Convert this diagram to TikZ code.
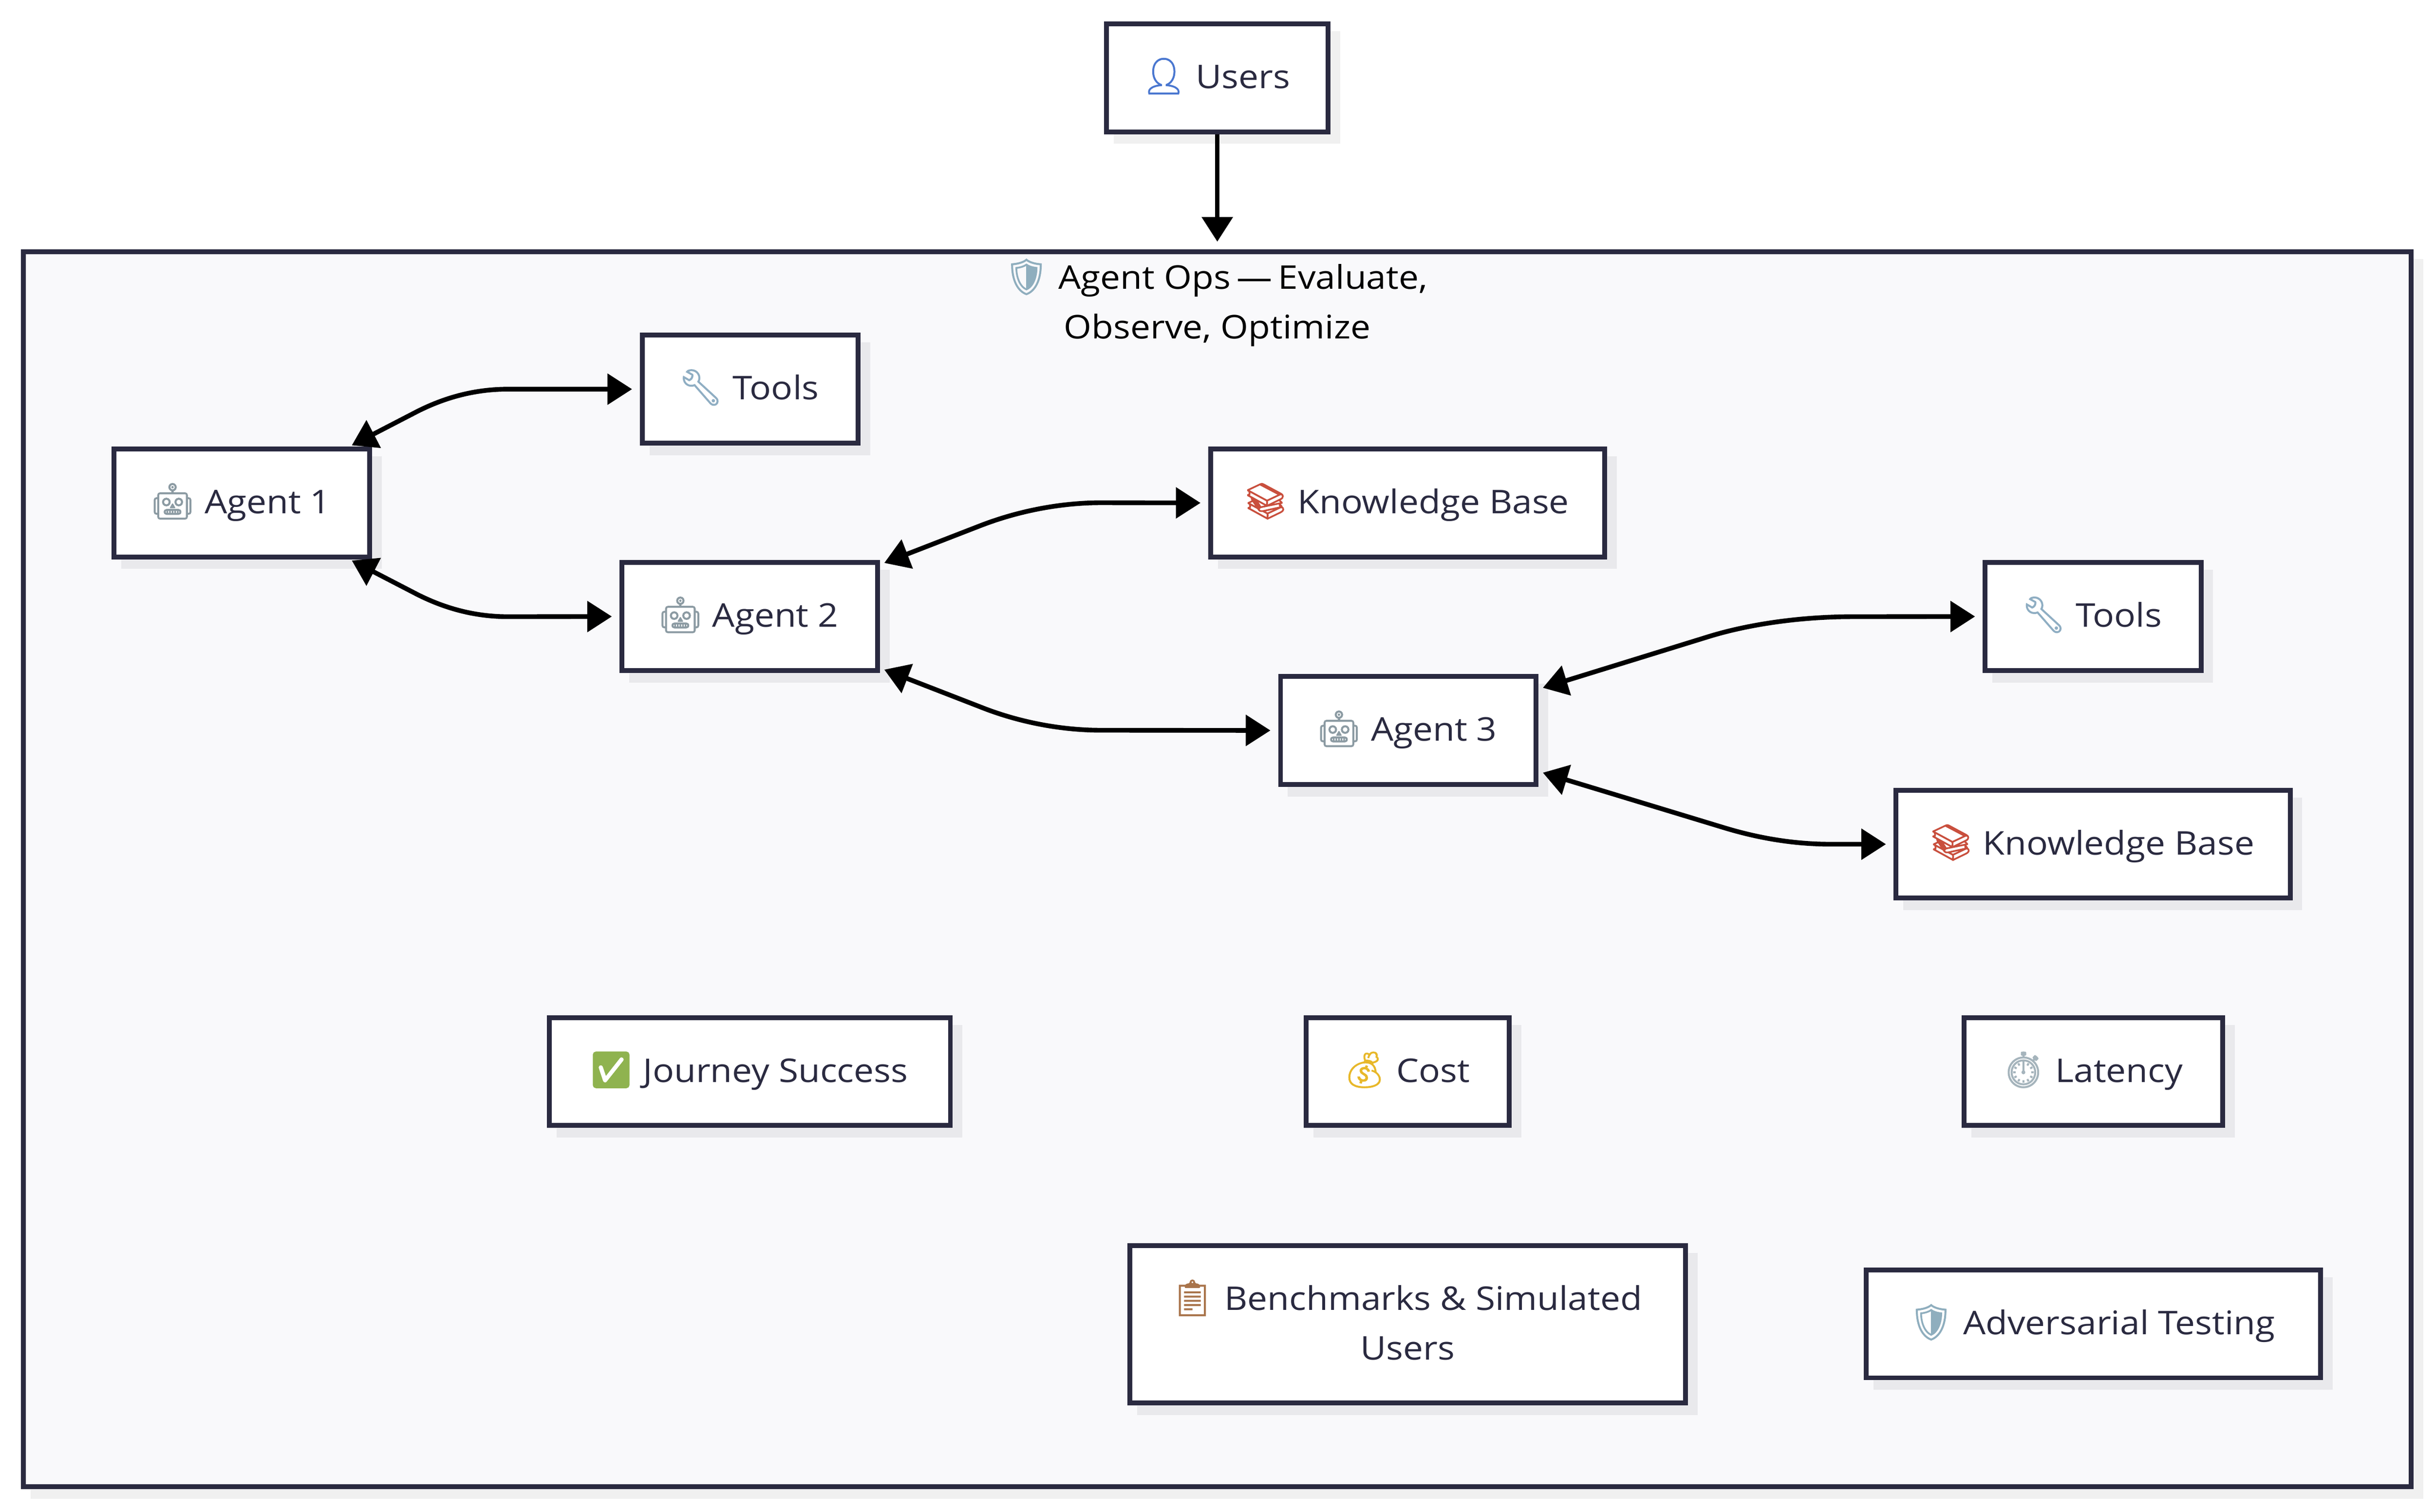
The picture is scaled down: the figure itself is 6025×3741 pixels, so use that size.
\documentclass[tikz,border=0pt]{standalone}
\usepackage{fontspec}
\usepackage{tikz}
\usetikzlibrary{arrows.meta,shadows}
\setmainfont{Open Sans}[FakeStretch=1.09]
\newfontfamily\emojifont{Noto Emoji}[FakeBold=1.6]
\definecolor{inkc}{HTML}{2A2A40}
\definecolor{panelc}{HTML}{F9F9FB}
\definecolor{shadeon}{HTML}{E9E9EC}
\definecolor{shadeoff}{HTML}{F0F0F0}
\definecolor{userc}{HTML}{4A77D0}
\definecolor{robotc}{HTML}{8C9BA3}
\definecolor{bookc}{HTML}{C94F3D}
\definecolor{toolc}{HTML}{8FAEC3}
\definecolor{shieldc}{HTML}{8FAEBE}
\definecolor{checkc}{HTML}{8FB34F}
\definecolor{moneyc}{HTML}{E8B82A}
\definecolor{watchc}{HTML}{A5B4BC}
\definecolor{clipc}{HTML}{A9744B}
\newcommand{\icon}[2]{\makebox[31.75pt][l]{\hspace{-2pt}\textcolor{#1}{\fontsize{22pt}{30.75pt}\emojifont #2}}}
\tikzset{
  box/.style={draw=inkc,fill=white,line width=3pt,text=inkc,minimum height=66.75pt,
    align=center,inner sep=0pt,font=\fontsize{20.2pt}{30.75pt}\selectfont,
    text height=16pt,text depth=3pt,
    general shadow={draw=shadeon,fill=shadeon,line width=3pt,shadow xshift=6pt,shadow yshift=-6pt}},
  topbox/.style={box,general shadow={draw=shadeoff,fill=shadeoff,line width=3pt,shadow xshift=6pt,shadow yshift=-6pt}},
  panel/.style={draw=inkc,fill=panelc,line width=3pt,inner sep=0pt,
    general shadow={draw=shadeoff,fill=shadeoff,line width=3pt,shadow xshift=6pt,shadow yshift=-6pt}},
  link/.style={draw=black,line width=2.9pt,shorten >=4.75pt,-{Triangle[length=15.25pt,width=18.75pt]}},
  bothlink/.style={link,{Triangle[length=15.25pt,width=18.75pt]}-{Triangle[length=15.25pt,width=18.75pt]}}
}
\begin{document}
\begin{tikzpicture}[x=0.25pt,y=0.25pt,yscale=-1,xscale=1]
    \useasboundingbox (0,0) rectangle (6025,3741);

    %Shape: Panel
    \draw (3012,2151) node (panelbox) [panel,minimum width=1477pt,minimum height=764pt] {};
    %Shape: Users
    \draw (3012,192.5) node (users) [topbox,minimum width=137.25pt] {\icon{userc}{👤}Users};

    % Text Node
    \draw (3012,749) node (paneltitle) [align=center,inner sep=0pt,text=black,font=\fontsize{20.2pt}{30.75pt}\selectfont] {\icon{shieldc}{🛡}Agent Ops\kern-2pt{} — \kern-2pt{}Evaluate,\\Observe, Optimize};

    %Shape: Agents
    \draw (598.5,1244.5) node (agentone) [box,minimum width=158pt] {\icon{robotc}{🤖}Agent 1};
    \draw (1855,1525.5) node (agenttwo) [box,minimum width=158pt] {\icon{robotc}{🤖}Agent 2};
    \draw (3484.5,1807.5) node (agentthree) [box,minimum width=158pt] {\icon{robotc}{🤖}Agent 3};

    %Shape: Tools and bases
    \draw (1856,963) node (toolsone) [box,minimum width=133.5pt] {\icon{toolc}{🔧}Tools};
    \draw (3483,1244.5) node (kbone) [box,minimum width=243.75pt] {\icon{bookc}{📚}Knowledge Base};
    \draw (5179,1525.5) node (toolstwo) [box,minimum width=133.5pt] {\icon{toolc}{🔧}Tools};
    \draw (5179,2089) node (kbtwo) [box,minimum width=243.75pt] {\icon{bookc}{📚}Knowledge Base};

    %Shape: Metrics
    \draw (1855.5,2651.5) node (journey) [box,minimum width=248pt] {\icon{checkc}{✅}Journey Success};
    \draw (3483,2651.5) node (cost) [box,minimum width=125.5pt] {\icon{moneyc}{💰}Cost};
    \draw (5180,2651.5) node (latency) [box,minimum width=160pt] {\icon{watchc}{⏱}Latency};
    \draw (3483,3277) node (bench) [box,minimum width=343.5pt,minimum height=97.5pt,text height=46.75pt] {\icon{clipc}{📋}Benchmarks \& Simulated\\Users};
    \draw (5180,3276) node (adversarial) [box,minimum width=281pt] {\icon{shieldc}{🛡}Adversarial Testing};

    %Connectors
    \draw [link] (users.south) -- (panelbox.north);
    \draw [bothlink] ([shift={(-50,-3)}]agentone.north east) -- (1023,1023) .. controls (1093,986) and (1170,963) .. (1257,963) -- (toolsone.west);
    \draw [bothlink] ([shift={(-50,3)}]agentone.south east) -- (1023,1466) .. controls (1093,1503) and (1170,1526) .. (1257,1526) -- (agenttwo.west);
    \draw [bothlink] ([shift={(11,7)}]agenttwo.north east) -- (2425,1301) .. controls (2515,1266) and (2620,1244) .. (2725,1244) -- (kbone.west);
    \draw [bothlink] ([shift={(11,-8)}]agenttwo.south east) -- (2425,1749) .. controls (2515,1785) and (2620,1807) .. (2725,1807) -- (agentthree.west);
    \draw [bothlink] ([shift={(11,34)}]agentthree.north east) -- (4222,1577) .. controls (4320,1546) and (4450,1526) .. (4584,1526) -- (toolstwo.west);
    \draw [bothlink] ([shift={(11,-35)}]agentthree.south east) -- (4262,2047) .. controls (4340,2071) and (4430,2089) .. (4530,2089) -- (kbtwo.west);

\end{tikzpicture}
\end{document}
